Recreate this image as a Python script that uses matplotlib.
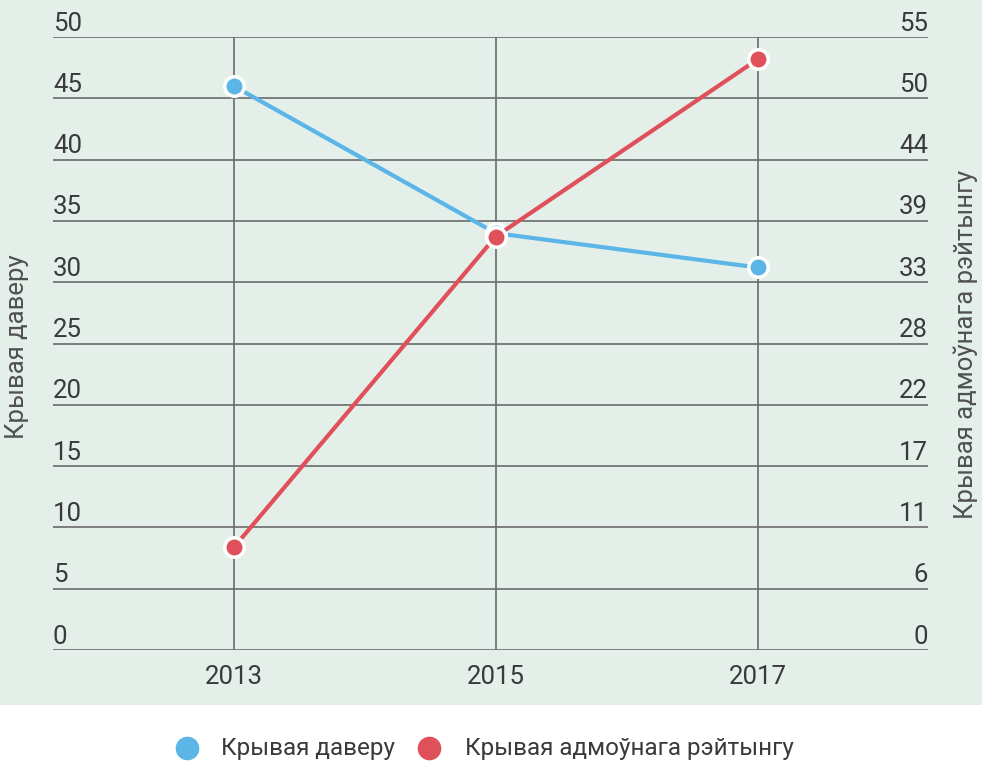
import matplotlib.pyplot as plt
from matplotlib.patches import Rectangle

plt.rcParams['font.family'] = ['Roboto', 'DejaVu Sans']

years = ['2013', '2015', '2017']
trust = [46.0, 34.0, 31.2]
negative = [9.2, 37.1, 53.0]
left_ticks = [0, 5, 10, 15, 20, 25, 30, 35, 40, 45, 50]
right_ticks = [0, 5.5, 11, 16.5, 22, 27.5, 33, 38.5, 44, 49.5, 55]
right_labels = ['0', '6', '11', '17', '22', '28', '33', '39', '44', '50', '55']

blue = '#5bb5e6'
red = '#e0505a'
bg = '#e4efe9'
txt = '#3a3a3a'
grid = '#6a6a6a'

fig = plt.figure(figsize=(9.82, 7.64), dpi=100)
fig.patches.append(Rectangle((0, 1 - 705 / 764), 1, 705 / 764, transform=fig.transFigure,
                             facecolor=bg, edgecolor='none', zorder=-10))

ax = fig.add_axes([53 / 982, 1 - 650 / 764, (928 - 53) / 982, (650 - 37) / 764])
ax.set_facecolor('none')
ax2 = ax.twinx()
ax2.set_facecolor('none')

x = list(range(len(years)))
ax.plot(x, trust, color=blue, lw=3, marker='o', ms=14, mfc=blue, mec='white', mew=2.5, zorder=5, clip_on=False)
ax2.plot(x, negative, color=red, lw=3, marker='o', ms=14, mfc=red, mec='white', mew=2.5, zorder=5, clip_on=False)

ax.set_xlim(-0.69, 2.65)
ax.set_ylim(0, 50)
ax2.set_ylim(0, 55)

for t in left_ticks:
    ax.axhline(t, color=grid, lw=1.2, zorder=1)
    ax.text(0, t + 0.12, str(t), transform=ax.get_yaxis_transform(), ha='left', va='bottom',
            fontsize=18.5, color=txt)
for t, lab in zip(right_ticks, right_labels):
    ax2.text(1, t + 0.13, lab, transform=ax2.get_yaxis_transform(), ha='right', va='bottom',
             fontsize=18.5, color=txt)
for xi in x:
    ax.axvline(xi, color=grid, lw=1.2, zorder=1)

ax.set_yticks([])
ax2.set_yticks([])
ax.set_xticks(x)
ax.set_xticklabels(years, fontsize=18.5, color=txt)
ax.tick_params(axis='x', length=0, pad=11)
for a in (ax, ax2):
    for s in a.spines.values():
        s.set_visible(False)

fig.text(17 / 982, 1 - 347 / 764, 'Крывая даверу', rotation=90, ha='center', va='center',
         fontsize=18.5, color='#505050')
fig.text(966 / 982, 1 - 344 / 764, 'Крывая адмоўнага рэйтынгу', rotation=90, ha='center', va='center',
         fontsize=18.5, color='#505050')

# legend
ly = 1 - 748 / 764
fig.lines.append(plt.Line2D([187 / 982], [ly], marker='o', ms=16, color=blue, transform=fig.transFigure))
fig.text(221 / 982, ly, 'Крывая даверу', ha='left', va='center', fontsize=17.5, color=txt)
fig.lines.append(plt.Line2D([429 / 982], [ly], marker='o', ms=16, color=red, transform=fig.transFigure))
fig.text(465 / 982, ly, 'Крывая адмоўнага рэйтынгу', ha='left', va='center', fontsize=17.5, color=txt)

fig.savefig('out.png', dpi=100, facecolor='white')
